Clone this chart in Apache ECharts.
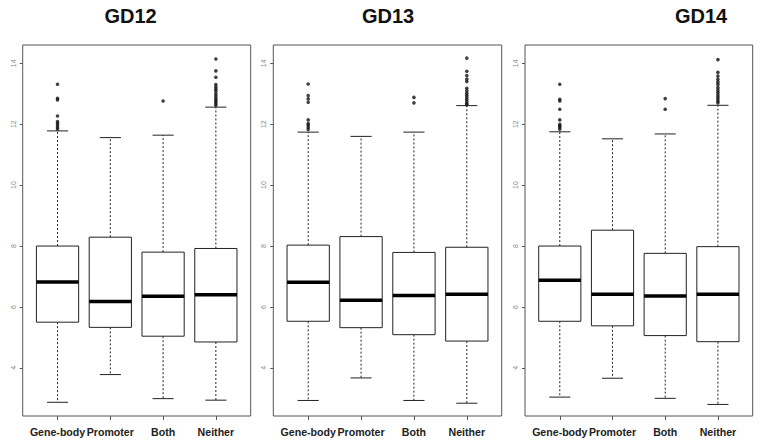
<!DOCTYPE html>
<html>
<head>
<meta charset="utf-8">
<script src="https://cdn.jsdelivr.net/npm/echarts@6/dist/echarts.min.js"></script>
<style>
  html, body { margin: 0; padding: 0; background: #fff; }
  #chart { width: 762px; height: 447px; }
</style>
</head>
<body>
<div id="chart"></div>
<script>
// ---- data ----
const categories = ['Gene-body', 'Promoter', 'Both', 'Neither'];
const panelTitles = ['GD12', 'GD13', 'GD14'];
const yTicks = [4, 6, 8, 10, 12, 14];

// [lower whisker, Q1, median, Q3, upper whisker] per category
const gd12Stats = [
  [2.87, 5.50, 6.82, 8.00, 11.78],
  [3.78, 5.33, 6.18, 8.29, 11.56],
  [2.99, 5.04, 6.35, 7.80, 11.64],
  [2.94, 4.85, 6.40, 7.92, 12.56]
];
const gd13Stats = [
  [2.93, 5.53, 6.81, 8.03, 11.74],
  [3.67, 5.32, 6.22, 8.31, 11.60],
  [2.93, 5.09, 6.38, 7.79, 11.74],
  [2.84, 4.88, 6.42, 7.96, 12.61]
];
const gd14Stats = [
  [3.04, 5.53, 6.88, 8.00, 11.75],
  [3.66, 5.38, 6.42, 8.52, 11.52],
  [3.00, 5.06, 6.36, 7.76, 11.68],
  [2.80, 4.86, 6.42, 7.98, 12.62]
];

// outliers per category
const gd12Outliers = [
  [13.31, 12.85, 12.80, 12.27, 12.09, 12.03, 11.97, 11.90, 11.84],
  [],
  [12.76],
  [14.14, 13.75, 13.54, 13.30, 13.22, 13.15, 13.08, 13.00, 12.93, 12.86, 12.80, 12.74, 12.68, 12.62]
];
const gd13Outliers = [
  [13.32, 12.94, 12.83, 12.72, 12.14, 12.02, 11.97, 11.90, 11.83],
  [],
  [12.88, 12.70],
  [14.17, 13.74, 13.60, 13.48, 13.40, 13.18, 13.10, 13.02, 12.95, 12.88, 12.81, 12.74, 12.68, 12.64]
];
const gd14Outliers = [
  [13.31, 12.82, 12.76, 12.49, 12.14, 12.00, 11.95, 11.90, 11.84],
  [],
  [12.84, 12.49],
  [14.12, 13.70, 13.58, 13.47, 13.38, 13.30, 13.20, 13.12, 13.05, 12.97, 12.90, 12.83, 12.76, 12.70]
];

const allStats = [gd12Stats, gd13Stats, gd14Stats];
const allOutliers = [gd12Outliers, gd13Outliers, gd14Outliers];

// ---- layout ----
const frames = [
  { left: 22.7, right: 250.7 },
  { left: 273.3, right: 501.7 },
  { left: 525, right: 752.7 }
];
const titleX = [130.5, 388, 701];
const TOP = 45, HEIGHT = 371;
const YMIN = 2.42, YMAX = 14.6;
const FONT = 'Liberation Sans, Arial, Helvetica, sans-serif';

function renderBox(params, api) {
  const i = api.value(0);
  const lo = api.coord([i, api.value(1)]);
  const q1 = api.coord([i, api.value(2)]);
  const md = api.coord([i, api.value(3)]);
  const q3 = api.coord([i, api.value(4)]);
  const hi = api.coord([i, api.value(5)]);
  const band = api.size([1, 0])[0];
  const x = md[0];
  const bh = band * 0.8 / 2;
  const ch = band * 0.4 / 2;
  const stroke = '#222';
  return {
    type: 'group',
    children: [
      { type: 'line', shape: { x1: x, y1: q1[1], x2: x, y2: lo[1] },
        style: { stroke: stroke, lineWidth: 1, lineDash: [2, 2] } },
      { type: 'line', shape: { x1: x, y1: q3[1], x2: x, y2: hi[1] },
        style: { stroke: stroke, lineWidth: 1, lineDash: [2, 2] } },
      { type: 'line', shape: { x1: x - ch, y1: lo[1], x2: x + ch, y2: lo[1] },
        style: { stroke: stroke, lineWidth: 1 } },
      { type: 'line', shape: { x1: x - ch, y1: hi[1], x2: x + ch, y2: hi[1] },
        style: { stroke: stroke, lineWidth: 1 } },
      { type: 'rect', shape: { x: x - bh, y: q3[1], width: bh * 2, height: q1[1] - q3[1] },
        style: { stroke: stroke, lineWidth: 1, fill: '#fff' } },
      { type: 'line', shape: { x1: x - bh, y1: md[1], x2: x + bh, y2: md[1] },
        style: { stroke: '#000', lineWidth: 3.5 } }
    ]
  };
}

const grid = [], xAxis = [], yAxis = [], series = [], title = [];
frames.forEach((f, p) => {
  const W = f.right - f.left;
  const inset = W * 0.16 / 4.32;
  // frame grid
  grid.push({ left: f.left, width: W, top: TOP, height: HEIGHT, show: true,
    borderColor: '#555', borderWidth: 1, backgroundColor: 'transparent' });
  // data grid
  grid.push({ left: f.left + inset, width: W * 4 / 4.32, top: TOP, height: HEIGHT });

  xAxis.push({ type: 'value', gridIndex: 2 * p, min: 0, max: 1, show: false });
  xAxis.push({ type: 'category', gridIndex: 2 * p + 1, data: categories,
    axisLine: { show: false },
    axisTick: { show: true, alignWithLabel: true, length: 4, lineStyle: { color: '#555' } },
    axisLabel: { interval: 0, margin: 10, fontSize: 10.6, fontWeight: 'bold', color: '#222', fontFamily: FONT },
    splitLine: { show: false } });

  yAxis.push({ type: 'value', gridIndex: 2 * p, min: YMIN, max: YMAX,
    axisLine: { show: false },
    axisTick: { show: true, length: 3, customValues: yTicks, lineStyle: { color: '#555' } },
    axisLabel: { customValues: yTicks, rotate: 90, fontSize: 7, color: '#888', margin: 6, fontFamily: FONT },
    splitLine: { show: false } });
  yAxis.push({ type: 'value', gridIndex: 2 * p + 1, min: YMIN, max: YMAX, show: false,
    splitLine: { show: false } });

  series.push({
    type: 'custom', xAxisIndex: 2 * p + 1, yAxisIndex: 2 * p + 1,
    renderItem: renderBox,
    encode: { x: 0, y: [1, 2, 3, 4, 5] },
    data: allStats[p].map((s, i) => [i].concat(s)),
    silent: true, animation: false
  });
  const pts = [];
  allOutliers[p].forEach((arr, i) => arr.forEach(v => pts.push([i, v])));
  series.push({
    type: 'scatter', xAxisIndex: 2 * p + 1, yAxisIndex: 2 * p + 1,
    data: pts, symbol: 'circle', symbolSize: 3.6,
    itemStyle: { color: '#111' }, silent: true, animation: false, z: 3
  });

  title.push({ text: panelTitles[p], left: titleX[p], top: 6, textAlign: 'center', padding: 0,
    textStyle: { fontSize: 20, fontWeight: 'bold', color: '#111', fontFamily: FONT } });
});

const chart = echarts.init(document.getElementById('chart'), null, { renderer: 'svg' });
chart.setOption({
  backgroundColor: '#fff',
  animation: false,
  title: title,
  grid: grid,
  xAxis: xAxis,
  yAxis: yAxis,
  series: series
});
</script>
</body>
</html>
